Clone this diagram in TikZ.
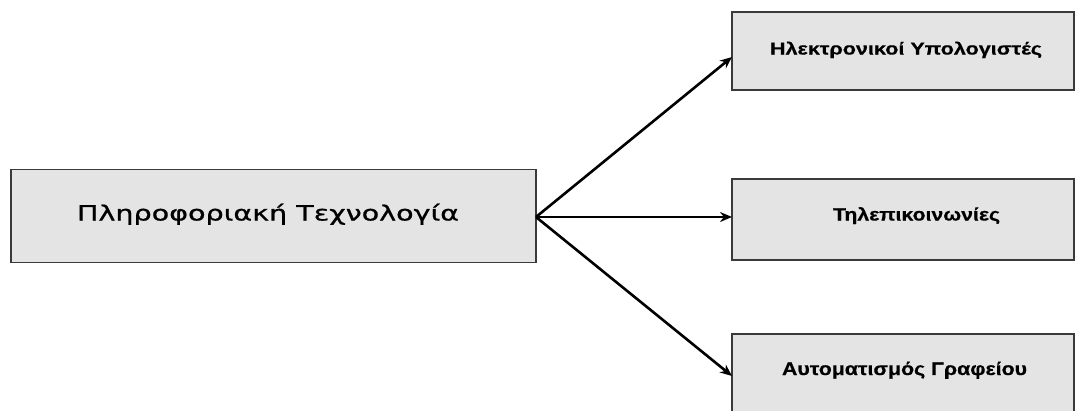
\documentclass[tikz,border=0pt]{standalone}
\usepackage{fontspec}
\usepackage{graphicx}
\usetikzlibrary{arrows.meta,calc}
\newfontfamily\mainfnt[FakeBold=0.7]{DejaVu Sans}
\newfontfamily\boxfnt[BoldFeatures={FakeBold=0.5}]{Liberation Sans}
\definecolor{boxfill}{HTML}{E4E4E4}
\definecolor{boxdraw}{HTML}{3A3A3A}
\tikzset{
  box/.style={draw=boxdraw, fill=boxfill, line width=1.8pt, rectangle, inner sep=0pt, outer sep=0pt},
  lbl/.style={anchor=base west, inner sep=0pt, outer sep=0pt, text=black},
  conn/.style={line width=2.6pt, black, -{Stealth[length=12pt,width=10pt]}}
}
\newcommand{\fitw}[2]{\resizebox{#1}{\height}{#2}}
\begin{document}
\begin{tikzpicture}[x=1pt,y=-1pt]
  \useasboundingbox (0,0) rectangle (1076,410);
  \clip (0,0) rectangle (1076,410);
  % boxes
  \node[box, minimum width=525pt, minimum height=93pt] (main) at (273.5,216) {};
  \node[box, minimum width=342pt, minimum height=78pt] (top) at (903,51) {};
  \node[box, minimum width=342pt, minimum height=81pt] (mid) at (903,219.5) {};
  \node[box, minimum width=342pt, minimum height=82pt] (bot) at (903,375) {};
  % texts
  \node[lbl] (tmain) at (77,220.5) {\fitw{382pt}{\mainfnt\fontsize{21}{22}\selectfont Πληροφοριακή Τεχνολογία}};
  \node[lbl] (ttop) at (770,54.5) {\fitw{272pt}{\boxfnt\bfseries\fontsize{17.2}{18}\selectfont Ηλεκτρονικοί Υπολογιστές}};
  \node[lbl] (tmid) at (833,220.5) {\fitw{167pt}{\boxfnt\bfseries\fontsize{17.8}{19}\selectfont Τηλεπικοινωνίες}};
  \node[lbl] (tbot) at (782,375) {\fitw{245pt}{\boxfnt\bfseries\fontsize{18.2}{19}\selectfont Αυτοματισμός Γραφείου}};
  % connectors
  \coordinate (src) at ($(main.east)+(0,1)$);
  \draw[conn] (src) -- ($(top.west)+(0,6)$);
  \draw[conn] (src) -- (mid.west |- src);
  \draw[conn] (src) -- ($(bot.west)+(0,1)$);
\end{tikzpicture}
\end{document}
